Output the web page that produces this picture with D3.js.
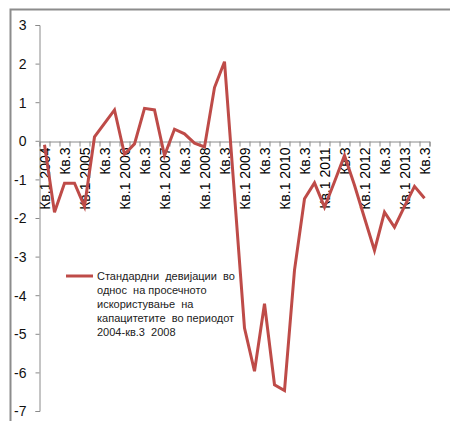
<!DOCTYPE html>
<html>
<head>
<meta charset="utf-8">
<script src="https://cdn.jsdelivr.net/npm/d3@7/dist/d3.min.js"></script>
<style>
  html, body { margin: 0; padding: 0; background: #fff; }
  svg { display: block; }
  .lbl { font-family: "Liberation Sans", Arial, sans-serif; }
</style>
</head>
<body>
<svg id="chart" width="450" height="421"></svg>
<script>
// Quarters from Q1 2004 to Q3 2013
const years = [2004, 2005, 2006, 2007, 2008, 2009, 2010, 2011, 2012, 2013];
const quarters = [];
years.forEach(yr => [1, 2, 3, 4].forEach(q => {
  if (yr < 2013 || q <= 3) quarters.push(yr + "Q" + q);
}));

// Standard deviations of capacity utilisation vs. the 2004 – Q3 2008 average
const values = [
  -0.10, -1.85, -1.10, -1.10, -1.70, 0.10, 0.45, 0.80,
  -0.35, -0.08, 0.84, 0.80, -0.38, 0.30, 0.18, -0.06,
  -0.16, 1.38, 2.05, -1.40, -4.85, -5.97, -4.22, -6.32,
  -6.47, -3.35, -1.50, -1.09, -1.72, -1.06, -0.38, -1.15,
  -2.00, -2.84, -1.85, -2.24, -1.70, -1.18, -1.49
];

const yTicks = [3, 2, 1, 0, -1, -2, -3, -4, -5, -6, -7];
const legendLines = [
  "Стандардни  девијации  во",
  "однос  на просечното",
  "искористување  на",
  "капацитетите  во периодот",
  "2004-кв.3  2008"
];

// Axis label for a quarter: only Q1 (with year) and Q3 are shown
function quarterLabel(key) {
  const [yr, q] = key.split("Q");
  if (q === "1") return "Кв.1 " + yr;
  if (q === "3") return "Кв.3";
  return "";
}

const svg = d3.select("#chart");

// outer frame (extends past the visible area on the right and bottom)
svg.append("rect")
  .attr("x", 10.5).attr("y", 9.5)
  .attr("width", 460).attr("height", 430)
  .attr("fill", "#fff")
  .attr("stroke", "#8c8c8c")
  .attr("stroke-width", 2);

const plot = { left: 39.5, right: 429.5, top: 25, bottom: 411 };

const x = d3.scaleBand()
  .domain(quarters)
  .range([plot.left, plot.right])
  .padding(0);

const y = d3.scaleLinear()
  .domain([-7, 3])
  .range([plot.bottom, plot.top]);

const axisColor = "#8a8a8a";

// Y axis
const yAxis = svg.append("g")
  .attr("transform", `translate(${plot.left},0)`)
  .call(d3.axisLeft(y).tickValues(yTicks).tickSize(4).tickPadding(6)
    .tickFormat(d => String(d)));
yAxis.select(".domain").attr("stroke", axisColor);
yAxis.selectAll(".tick line").attr("stroke", axisColor);
yAxis.selectAll(".tick text")
  .attr("class", "lbl")
  .attr("font-size", 14)
  .attr("fill", "#111")
  .attr("dx", -3)
  .attr("dy", "0.35em");

// X axis at zero: tick marks on category boundaries
const xEdge = d3.scaleLinear().domain([0, quarters.length]).range([plot.left, plot.right]);
const xAxis = svg.append("g")
  .attr("transform", `translate(0,${Math.round(y(0)) + 0.5})`)
  .call(d3.axisBottom(xEdge)
    .tickValues(d3.range(quarters.length + 1)).tickSize(5).tickFormat(""));
xAxis.select(".domain").attr("stroke", axisColor);
xAxis.selectAll(".tick line").attr("stroke", axisColor);

// Category labels, rotated, hanging under the zero line
const xLabels = svg.append("g")
  .attr("transform", `translate(0,${Math.round(y(0)) + 0.5})`)
  .call(d3.axisBottom(x).tickSize(0).tickFormat(quarterLabel));
xLabels.select(".domain").remove();
xLabels.selectAll(".tick text")
  .attr("class", "lbl")
  .attr("font-size", 14)
  .attr("fill", "#000")
  .attr("text-anchor", "end")
  .attr("transform", "rotate(-90)")
  .attr("x", -6)
  .attr("y", 0)
  .attr("dy", "0.36em");

// Data line
const lineColor = "#BE4B48";
const line = d3.line()
  .x((d, i) => x(quarters[i]) + x.bandwidth() / 2)
  .y(d => y(d));

svg.append("path")
  .datum(values)
  .attr("d", line)
  .attr("fill", "none")
  .attr("stroke", lineColor)
  .attr("stroke-width", 3)
  .attr("stroke-linejoin", "miter");

// Legend
const lg = svg.append("g").attr("transform", "translate(66,276)");
lg.append("line")
  .attr("x1", 0).attr("x2", 27).attr("y1", 0).attr("y2", 0)
  .attr("stroke", lineColor).attr("stroke-width", 3);
lg.append("text")
  .attr("x", 31).attr("y", 0)
  .attr("font-family", "'Liberation Sans', Arial, sans-serif")
  .attr("font-size", 11)
  .attr("fill", "#222")
  .style("white-space", "pre")
  .selectAll("tspan")
  .data(legendLines)
  .join("tspan")
  .attr("x", 31)
  .attr("dy", (d, i) => i === 0 ? "0.36em" : "14.1")
  .text(d => d);
</script>
</body>
</html>
